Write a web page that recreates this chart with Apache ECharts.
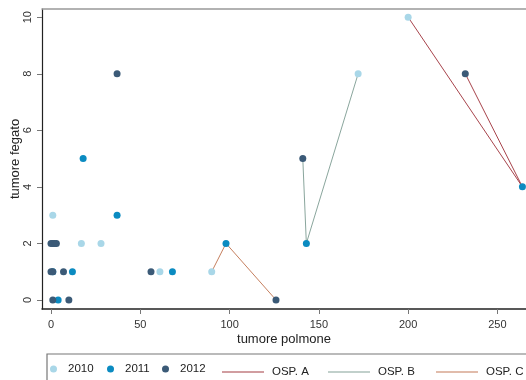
<!DOCTYPE html>
<html>
<head>
<meta charset="utf-8">
<script src="https://cdn.jsdelivr.net/npm/echarts@6/dist/echarts.min.js"></script>
<style>
  html, body { margin: 0; padding: 0; background: #fff; }
  #chart { width: 526px; height: 380px; }
</style>
</head>
<body>
<div id="chart"></div>
<script>
// Tumour counts per hospital: lung (x) vs liver (y), by year
const pts2010 = [[1, 3], [17, 2], [28, 2], [61, 1], [90, 1], [172, 8], [200, 10]];
const pts2011 = [[18, 5], [37, 3], [1, 1], [12, 1], [68, 1], [4, 0], [98, 2], [143, 2], [264, 4]];
const pts2012 = [[37, 8], [0, 2], [1, 2], [2, 2], [3, 2], [0, 1], [1, 1], [7, 1], [56, 1], [1, 0], [10, 0], [126, 0], [141, 5], [232, 8]];

// Trajectories 2010 -> 2011 -> 2012 for three hospitals
const ospA = [[200, 10], [264, 4], [232, 8]];
const ospB = [[172, 8], [143, 2], [141, 5]];
const ospC = [[90, 1], [98, 2], [126, 0]];

const xTicks = [0, 50, 100, 150, 200, 250];
const yTicks = [0, 2, 4, 6, 8, 10];

const FONT = 'Liberation Sans, Arial, sans-serif';
const C2010 = '#a9d7e8', C2011 = '#0b8bc1', C2012 = '#3b5a77';
const CA = '#a8444c', CB = '#8aa69d', CC = '#c6805f';

const chart = echarts.init(document.getElementById('chart'), null, { renderer: 'canvas' });

function scatterLegend(name, left) {
  return {
    data: [{ name: name, icon: 'circle' }], left: left, top: 363, padding: 0,
    itemWidth: 7, itemHeight: 7,
    textStyle: { fontFamily: FONT, fontSize: 11.5, color: '#222', padding: [0, 0, 0, 6] }
  };
}
function lineLegend(name, left) {
  return {
    data: [{ name: name, icon: 'rect' }], left: left, top: 366, padding: 0,
    itemWidth: 42, itemHeight: 1.4,
    itemStyle: { opacity: 0.7 },
    textStyle: { fontFamily: FONT, fontSize: 11.5, color: '#222', padding: [0, 0, 0, 3] }
  };
}

chart.setOption({
  animation: false,
  backgroundColor: '#fff',
  grid: { left: 42, top: 9, width: 484, height: 300, containLabel: false, outerBoundsMode: 'none' },
  xAxis: [{
    type: 'value', min: -5.04, max: 266,
    axisLine: { show: true, onZero: false, lineStyle: { color: '#222', width: 1.5 } },
    axisTick: { show: true, customValues: xTicks, length: 5, lineStyle: { color: '#777' } },
    axisLabel: { customValues: xTicks, margin: 10, fontSize: 11, color: '#333', fontFamily: FONT },
    splitLine: { show: false },
    name: 'tumore polmone', nameLocation: 'middle', nameGap: 24, nameMoveOverlap: false,
    nameTextStyle: { fontFamily: FONT, fontSize: 13, color: '#222' }
  }, {
    type: 'value', position: 'top', min: -5.04, max: 266,
    axisLine: { show: true, onZero: false, lineStyle: { color: '#999', width: 1.5 } },
    axisTick: { show: false }, axisLabel: { show: false }, splitLine: { show: false }
  }],
  yAxis: {
    type: 'value', min: -0.32, max: 10.29,
    axisLine: { show: true, onZero: false, lineStyle: { color: '#222', width: 1.2 } },
    axisTick: { show: true, customValues: yTicks, length: 5, lineStyle: { color: '#777' } },
    axisLabel: { customValues: yTicks, rotate: 90, margin: 9, fontSize: 11, color: '#333', fontFamily: FONT },
    splitLine: { show: false },
    name: 'tumore fegato', nameLocation: 'middle', nameGap: 20, nameMoveOverlap: false,
    nameTextStyle: { fontFamily: FONT, fontSize: 13, color: '#222' }
  },
  legend: [
    scatterLegend('2010', 50),
    scatterLegend('2011', 107),
    scatterLegend('2012', 162),
    lineLegend('OSP. A', 222),
    lineLegend('OSP. B', 328),
    lineLegend('OSP. C', 436)
  ],
  graphic: [{
    type: 'rect', silent: true,
    shape: { x: 47, y: 354, width: 520, height: 60 },
    style: { fill: 'none', stroke: '#777', lineWidth: 1.2 }
  }],
  series: [
    { name: 'OSP. A', type: 'line', data: ospA, symbol: 'none', z: 1,
      lineStyle: { color: CA, width: 1 }, itemStyle: { color: CA } },
    { name: 'OSP. B', type: 'line', data: ospB, symbol: 'none', z: 1,
      lineStyle: { color: CB, width: 1 }, itemStyle: { color: CB } },
    { name: 'OSP. C', type: 'line', data: ospC, symbol: 'none', z: 1,
      lineStyle: { color: CC, width: 1 }, itemStyle: { color: CC } },
    { name: '2010', type: 'scatter', data: pts2010, symbolSize: 7, z: 2, itemStyle: { color: C2010, opacity: 1 } },
    { name: '2011', type: 'scatter', data: pts2011, symbolSize: 7, z: 2, itemStyle: { color: C2011, opacity: 1 } },
    { name: '2012', type: 'scatter', data: pts2012, symbolSize: 7, z: 2, itemStyle: { color: C2012, opacity: 1 } }
  ]
});
</script>
</body>
</html>
